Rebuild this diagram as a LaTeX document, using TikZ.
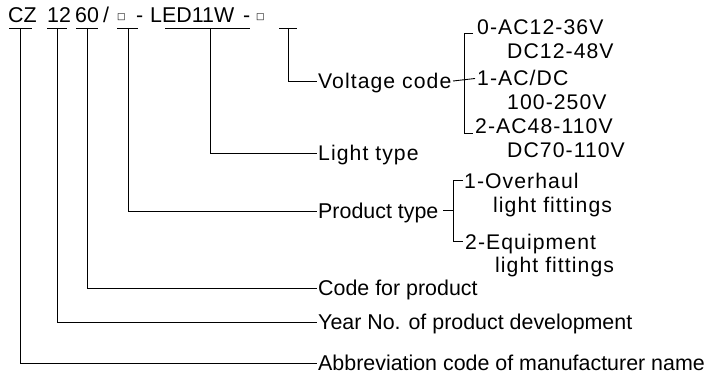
\documentclass[tikz,border=0pt]{standalone}
\usepackage{fontspec}
\setmainfont{Liberation Sans}
\newfontfamily\trk{Liberation Sans}[LetterSpace=5]
\newfontfamily\symf{DejaVu Sans}
\begin{document}
\begin{tikzpicture}[x=1pt,y=-1pt,
  lab/.style={anchor=base west,inner sep=0pt,font=\fontsize{21.4}{21.4}\selectfont},
  opt/.style={anchor=base west,inner sep=0pt,font=\fontsize{21.2}{21.2}\selectfont\trk},
  box/.style={anchor=base west,inner sep=0pt,font=\fontsize{9}{9}\selectfont\symf},
  ln/.style={line width=0.9pt,black}]
\useasboundingbox (0,0) rectangle (708,377);
% heading
\node[lab] (cz)  at (8,23)   {CZ};
\node[lab] (yr)  at (47,23)  {12};
\node[lab] (pc)  at (75,23)  {60};
\node[lab] (sl)  at (103,23) {/};
\node[box] (pt)  at (117,19.5) {□};
\node[lab] (d1)  at (136,23) {-};
\node[lab] (led) at (150,23) {LED11W};
\node[lab] (d2)  at (243,23) {-};
\node[box] (vc)  at (256,19.5) {□};
% underlines
\draw[ln] (9,28) -- (32,28);
\draw[ln] (47,28) -- (67,28);
\draw[ln] (76,28) -- (98,28);
\draw[ln] (117,28) -- (138,28);
\draw[ln] (165,28) -- (250,28);
\draw[ln] (279,28) -- (297,28);
\coordinate (ucz) at (20,28);
\coordinate (uyr) at (57,28);
\coordinate (upc) at (87,28);
\coordinate (upt) at (128,28);
\coordinate (uled) at (210,28);
\coordinate (uvc) at (288,28);
% labels
\node[opt] (volt)  at (318,88.5)  {Voltage code};
\node[opt] (light) at (318,160.5) {Light type};
\node[lab] (prod)  at (318,218.5) {Product type};
\node[lab] (code)  at (318,295.5) {Code for product};
\node[lab] (year)  at (318,329.5) {Year No. of product development};
\node[lab] (abbr)  at (318,370.5) {Abbreviation code of manufacturer name};
% connectors
\draw[ln] (uvc)  |- ([xshift=-1pt,yshift=7.5pt]volt.base west);
\draw[ln] (uled) |- ([xshift=-1pt,yshift=7.5pt]light.base west);
\draw[ln] (upt)  |- ([xshift=-1pt,yshift=7.5pt]prod.base west);
\draw[ln] (upc)  |- ([xshift=-1pt,yshift=7.5pt]code.base west);
\draw[ln] (uyr)  |- ([xshift=-1pt,yshift=7.5pt]year.base west);
\draw[ln] (ucz)  |- ([xshift=-1pt,yshift=7.5pt]abbr.base west);
% voltage options
\node[opt] (v0)  at (477,35)  {0-AC12-36V};
\node[opt] (v0b) at (507,58.5) {DC12-48V};
\node[opt] (v1)  at (477,86)  {1-AC/DC};
\node[opt] (v1b) at (507,110) {100-250V};
\node[opt] (v2)  at (475,133) {2-AC48-110V};
\node[opt] (v2b) at (507,157) {DC70-110V};
\coordinate (vj) at (453,81);
\draw[ln] (vj) -- ([xshift=-2pt,yshift=7.5pt]v1.base west);
\draw[ln] ([xshift=-4pt,yshift=2pt]v0.base west) -- (464,33) -- (464,133) -- ([xshift=-2pt]v2.base west);
% product options
\node[opt] (p1)  at (464,188) {1-Overhaul};
\node[opt] (p1b) at (493,212) {light fittings};
\node[opt] (p2)  at (465,249) {2-Equipment};
\node[opt] (p2b) at (495,272) {light fittings};
\coordinate (pj) at (443,210.7);
\draw[ln] (pj) -- (453,210.7);
\draw[ln] ([xshift=-1pt,yshift=7.3pt]p1.base west) -- (453,180.7) -- (453,241.7) -- ([xshift=-2pt,yshift=7.3pt]p2.base west);
\end{tikzpicture}
\end{document}
